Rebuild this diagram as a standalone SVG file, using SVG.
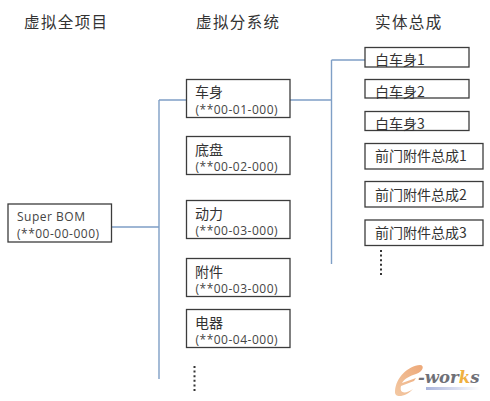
<svg xmlns="http://www.w3.org/2000/svg" width="490" height="401" viewBox="0 0 490 401">
<defs>
<linearGradient id="bar" x1="0" x2="1" y1="0" y2="0"><stop offset="0" stop-color="#a9b4dc"/><stop offset="1" stop-color="#ffffff"/></linearGradient>
<linearGradient id="swoosh" x1="0" x2="1" y1="1" y2="0"><stop offset="0" stop-color="#f3c9a4"/><stop offset="1" stop-color="#eda878"/></linearGradient>
</defs>
<style>
text{font-family:"Noto Sans CJK SC","Liberation Sans",sans-serif;fill:#333}
.h{font-size:15.500px;letter-spacing:1.400px}
.n{font-size:14px}
.c{font-size:12px;font-family:"Open Sans","Noto Sans",sans-serif;fill:#444;letter-spacing:.5px}
.b{fill:#fff;stroke:#3c3c3c;stroke-width:1.3}
.l{fill:none;stroke:#7f9fc6;stroke-width:1.4}
.d{fill:none;stroke:#333;stroke-width:2;stroke-dasharray:2 2.6}
</style>
<rect width="490" height="401" fill="#fff"/>
<g id="connectors">
<path class="l" d="M111.500 227H159M159 100V379M159 100H186.500M290 100H331.500M331.500 60V264M331.500 60H365"/>
<path class="d" d="M194.500 366V392M381 250V277"/>
</g>
<g id="headers">
<text class="h" x="24" y="28">虚拟全项目</text>
<text class="h" x="196" y="28">虚拟分系统</text>
<text class="h" x="375" y="28">实体总成</text>
</g>
<g id="super-bom"><rect class="b" x="8" y="204" width="103.500" height="38"/><text class="c" x="17" y="221" style="letter-spacing:.5px">Super BOM</text><text class="c" x="17" y="238">(**00-00-000)</text></g>
<g id="sub-body"><rect class="b" x="186.500" y="79.500" width="103.500" height="38"/><text class="n" x="195" y="97">车身</text><text class="c" x="195.500" y="114">(**00-01-000)</text></g>
<g id="sub-chassis"><rect class="b" x="186.500" y="136.500" width="103.500" height="38"/><text class="n" x="195" y="155">底盘</text><text class="c" x="195.500" y="171">(**00-02-000)</text></g>
<g id="sub-power"><rect class="b" x="186.500" y="200.500" width="103.500" height="38"/><text class="n" x="195" y="219">动力</text><text class="c" x="195.500" y="235">(**00-03-000)</text></g>
<g id="sub-attach"><rect class="b" x="186.500" y="258.500" width="103.500" height="38"/><text class="n" x="195" y="277">附件</text><text class="c" x="195.500" y="293">(**00-03-000)</text></g>
<g id="sub-electric"><rect class="b" x="186.500" y="309.500" width="103.500" height="38"/><text class="n" x="195" y="328">电器</text><text class="c" x="195.500" y="344">(**00-04-000)</text></g>
<g id="part-1"><rect class="b" x="365" y="47.500" width="104" height="19.500"/><text class="n" x="375" y="65">白车身1</text></g>
<g id="part-2"><rect class="b" x="365" y="79.500" width="104" height="18.500"/><text class="n" x="375" y="97">白车身2</text></g>
<g id="part-3"><rect class="b" x="365" y="111.500" width="104" height="19"/><text class="n" x="375" y="129">白车身3</text></g>
<g id="part-4"><rect class="b" x="365" y="143.500" width="118" height="25.500"/><text class="n" x="375" y="161">前门附件总成1</text></g>
<g id="part-5"><rect class="b" x="365" y="181.500" width="118" height="25.500"/><text class="n" x="375" y="200">前门附件总成2</text></g>
<g id="part-6"><rect class="b" x="365" y="220" width="118" height="25.500"/><text class="n" x="375" y="238">前门附件总成3</text></g>
<g id="watermark">
<path d="M395 391C396 377 408 366 420 365C425 365 423 372 416 374C410 376 405 378 402 383L416 378L414 381L401 386C399 394 406 394 413 389C406 397 394 399 395 391Z" fill="url(#swoosh)"/>
<text x="418" y="383" style="font-family:'DejaVu Serif',serif;font-weight:bold;font-style:italic;font-size:16.500px;fill:#6f7077">-wor<tspan style="fill:#f0b040">k</tspan>s</text>
<rect x="426" y="387" width="54" height="3" fill="url(#bar)"/>
</g>
</svg>
